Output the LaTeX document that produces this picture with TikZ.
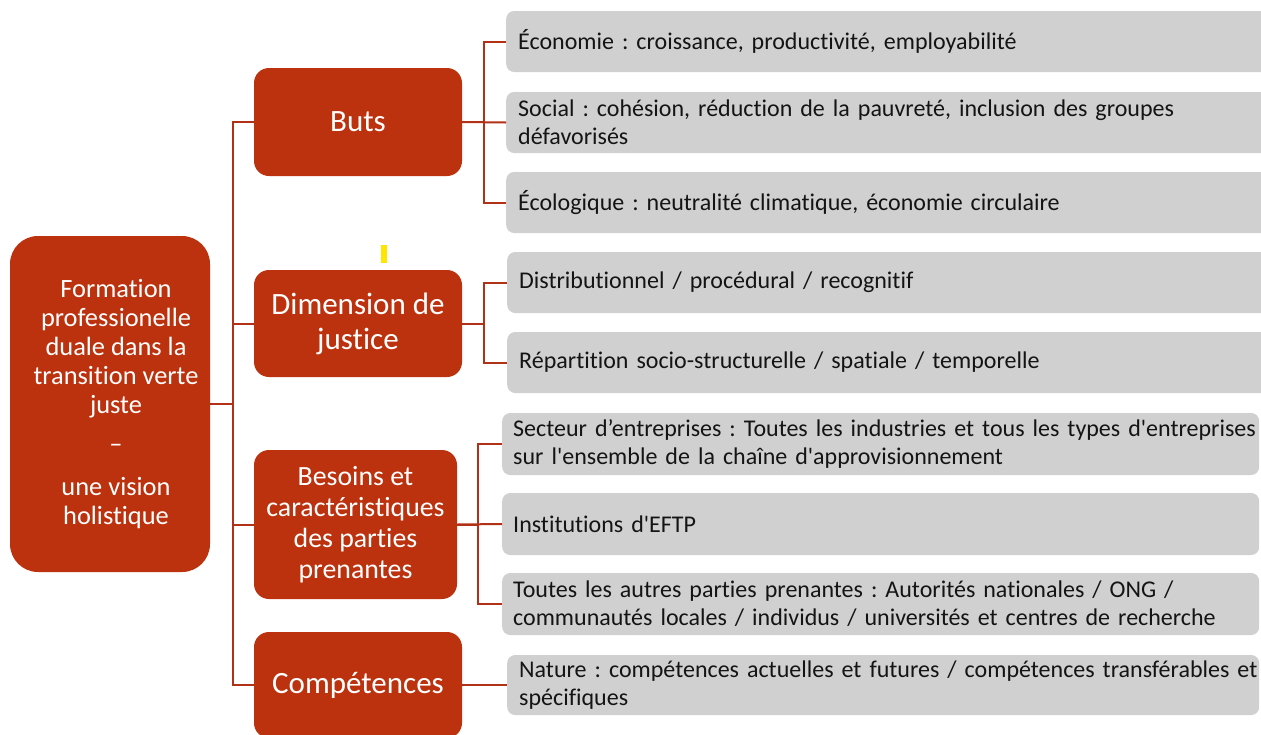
\documentclass[tikz,border=0pt]{standalone}
\usepackage{fontspec}
\setmainfont{Carlito}[Ligatures={TeXOff,CommonOff}]
\frenchspacing
\definecolor{myred}{RGB}{188,50,14}
\definecolor{linkred}{RGB}{178,48,22}
\definecolor{mygray}{RGB}{208,208,208}
\definecolor{mytext}{RGB}{20,20,20}
\definecolor{myyellow}{RGB}{255,230,0}
\tikzset{
  redbox/.style={fill=myred, rounded corners=15pt, text=white, align=center, inner sep=0pt},
  graybox/.style={fill=mygray, rounded corners=8pt, align=left, inner xsep=12pt, inner ysep=0pt, anchor=west, text=mytext, font=\fontsize{24}{28}\selectfont},
  link/.style={draw=linkred, line width=2pt}
}
\begin{document}
\begin{tikzpicture}[x=1pt,y=-1pt]
\useasboundingbox (0,0) rectangle (1261,734);
\clip (0,0) rectangle (1261,734);
\fill[white] (0,0) rectangle (1261,734);

% root
\node[redbox, rounded corners=28pt, minimum width=200pt, minimum height=336pt, font=\fontsize{26.4}{29}\selectfont] (root) at (110,404)
 {\hspace*{12pt}Formation\\\hspace*{12pt}professionelle\\\hspace*{12pt}duale dans la\\\hspace*{12pt}transition verte\\\hspace*{12pt}juste\\[10pt]\hspace*{12pt}–\\[14pt]\hspace*{12pt}une vision\\\hspace*{12pt}holistique};

% level 1
\node[redbox, minimum width=208pt, minimum height=108pt, font=\fontsize{31}{35}\selectfont] (buts) at (358,122) {Buts};
\node[redbox, minimum width=208pt, minimum height=107pt, font=\fontsize{31}{35}\selectfont] (dim) at (358,323.5) {Dimension de\\justice};
\node[redbox, minimum width=203pt, minimum height=149pt, font=\fontsize{27.8}{31}\selectfont] (bes) at (355.5,524.5) {Besoins et\\caractéristiques\\des parties\\prenantes};
\node[redbox, minimum width=208pt, minimum height=106pt, font=\fontsize{31}{35}\selectfont] (comp) at (358,685) {Compétences};

% yellow mark
\fill[myyellow] (381,245) rectangle (387,263);

% level 2
\node[graybox, text width=746pt, minimum height=61pt] (g1) at (506,41.5) {\mbox{Économie : croissance, productivité, employabilité}};
\node[graybox, text width=746pt, minimum height=61pt] (g2) at (506,122.5) {\mbox{Social : cohésion, réduction de la pauvreté, inclusion des groupes}\\défavorisés};
\node[graybox, text width=746pt, minimum height=61pt] (g3) at (506,202.5) {\mbox{Écologique : neutralité climatique, économie circulaire}};
\node[graybox, text width=746pt, minimum height=61pt] (g4) at (507,282.5) {\mbox{Distributionnel / procédural / recognitif}};
\node[graybox, text width=746pt, minimum height=61pt] (g5) at (507,362.5) {\mbox{Répartition socio-structurelle / spatiale / temporelle}};
\node[graybox, inner xsep=11pt, text width=735pt, minimum height=62pt] (g6) at (502,444) {\mbox{Secteur d’entreprises : Toutes les industries et tous les types d'entreprises}\\\mbox{sur l'ensemble de la chaîne d'approvisionnement}};
\node[graybox, inner xsep=11pt, text width=735pt, minimum height=62pt] (g7) at (502,524) {\mbox{Institutions d'EFTP}};
\node[graybox, inner xsep=11pt, text width=735pt, minimum height=62pt] (g8) at (502,604) {\mbox{Toutes les autres parties prenantes : Autorités nationales / ONG /}\\\mbox{communautés locales / individus / universités et centres de recherche}};
\node[graybox, text width=728pt, minimum height=60pt] (g9) at (507,685) {\mbox{Nature : compétences actuelles et futures / compétences transférables et}\\\mbox{spécifiques}};

% connectors
\draw[link] (root.east) -- ++(23,0) |- (buts.west);
\draw[link] (root.east) -- ++(23,0) |- (dim.west);
\draw[link] (root.east) -- ++(23,0) |- (bes.west);
\draw[link] (root.east) -- ++(23,0) |- (comp.west);

\draw[link] (buts.east) -- ++(22,0) |- (g1.west);
\draw[link] (buts.east) -- (g2.west);
\draw[link] (buts.east) -- ++(22,0) |- (g3.west);

\draw[link] (dim.east) -- ++(22,0) |- (g4.west);
\draw[link] (dim.east) -- ++(22,0) |- (g5.west);

\draw[link] (bes.east) -- ++(21,0) |- (g6.west);
\draw[link] (bes.east) -- (g7.west);
\draw[link] (bes.east) -- ++(21,0) |- (g8.west);

\draw[link] (comp.east) -- (g9.west);
\end{tikzpicture}
\end{document}
